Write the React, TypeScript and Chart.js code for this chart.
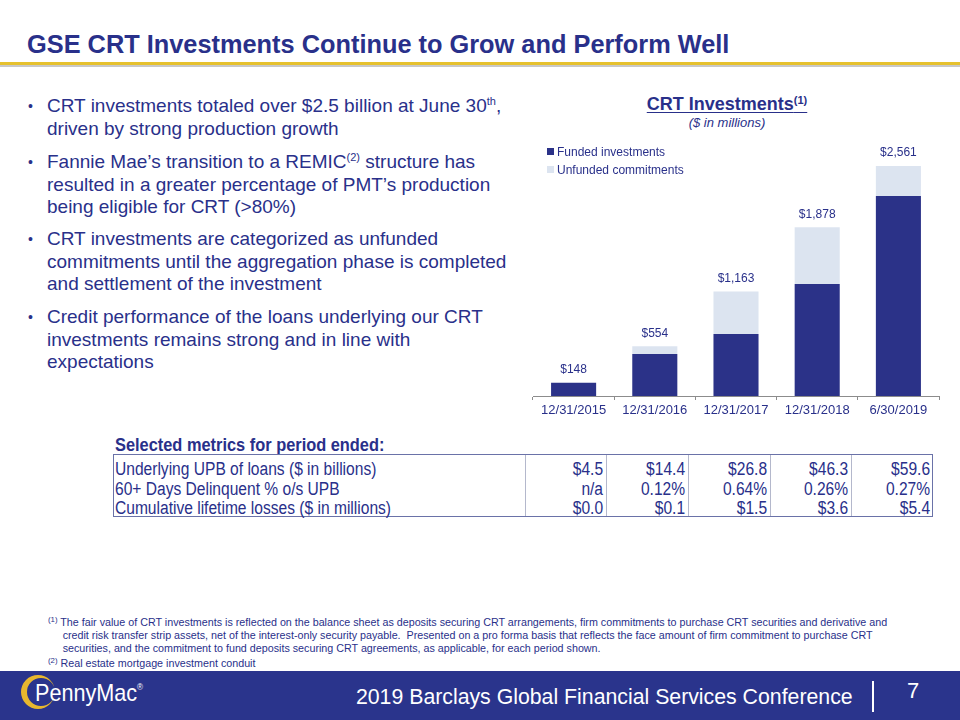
import React, { useEffect, useRef } from 'react';
import { Chart, registerables } from 'chart.js';

Chart.register(...registerables);

// ---------- data ----------
const categories = ['12/31/2015', '12/31/2016', '12/31/2017', '12/31/2018', '6/30/2019'];
const seriesNames = ['Funded investments', 'Unfunded commitments'];
const funded = [148, 468, 690, 1247, 2227];
const unfunded = [0, 86, 473, 631, 334];

const metricLabels = [
  'Underlying UPB of loans ($ in billions)',
  '60+ Days Delinquent % o/s UPB',
  'Cumulative lifetime losses ($ in millions)',
];
const upbBillions = [4.5, 14.4, 26.8, 46.3, 59.6];
const delinquentPct: (number | null)[] = [null, 0.12, 0.64, 0.26, 0.27];
const lossesMillions = [0.0, 0.1, 1.5, 3.6, 5.4];

// ---------- styles ----------
const FONT = 'Arial, "Liberation Sans", sans-serif';
const NAVY = '#29308A';
const BAR_DARK = '#2B3288';
const BAR_LIGHT = '#DCE4F0';
const BAND = '#2A348C';
const GOLD = '#E6C12E';

const tableRows: string[][] = [
  upbBillions.map((v) => '$' + v.toFixed(1)),
  delinquentPct.map((v) => (v === null ? 'n/a' : v.toFixed(2) + '%')),
  lossesMillions.map((v) => '$' + v.toFixed(1)),
];

const totalsPlugin = {
  id: 'totals',
  afterDatasetsDraw(chart: any) {
    const { ctx, scales } = chart;
    const meta = chart.getDatasetMeta(0);
    ctx.save();
    ctx.font = `12px ${FONT}`;
    ctx.fillStyle = NAVY;
    ctx.textAlign = 'center';
    ctx.textBaseline = 'middle';
    categories.forEach((_, i) => {
      const total = funded[i] + unfunded[i];
      const x = meta.data[i].x;
      const y = scales.y.getPixelForValue(total);
      ctx.fillText('$' + total.toLocaleString('en-US'), x, y - 13);
    });
    ctx.restore();
  },
};

const Narrow = ({ s, origin, children }: { s: number; origin: string; children: any }) => (
  <span
    style={{
      display: 'inline-block',
      transform: `scaleX(${s})`,
      transformOrigin: origin,
      whiteSpace: 'nowrap',
    }}
  >
    {children}
  </span>
);

const Sup = ({ children, size = 11, top = -7 }: { children: any; size?: number; top?: number }) => (
  <span style={{ fontSize: size, position: 'relative', top, lineHeight: 0 }}>{children}</span>
);

function CrtChart() {
  const ref = useRef<HTMLCanvasElement>(null);
  useEffect(() => {
    if (!ref.current) return;
    const chart = new Chart(ref.current, {
      type: 'bar',
      data: {
        labels: categories,
        datasets: [
          {
            label: seriesNames[0],
            data: funded,
            backgroundColor: BAR_DARK,
            barPercentage: 0.555,
            categoryPercentage: 1,
          },
          {
            label: seriesNames[1],
            data: unfunded,
            backgroundColor: BAR_LIGHT,
            barPercentage: 0.555,
            categoryPercentage: 1,
          },
        ],
      },
      options: {
        responsive: false,
        animation: false,
        layout: { padding: { left: 13, right: 11, top: 0, bottom: 0 } },
        plugins: { legend: { display: false }, tooltip: { enabled: false } },
        scales: {
          x: {
            stacked: true,
            grid: {
              drawOnChartArea: false,
              drawTicks: true,
              tickLength: 4,
              color: '#8C8C8C',
              offset: true,
            },
            border: { display: true, color: '#8C8C8C', width: 1 },
            ticks: { color: NAVY, font: { family: FONT, size: 13 }, padding: 3, maxRotation: 0 },
            afterFit(scale: any) {
              scale.height = 34;
            },
          },
          y: { stacked: true, display: false, min: 0, max: 2850 },
        },
      },
      plugins: [totalsPlugin],
    } as any);
    return () => chart.destroy();
  }, []);
  return (
    <canvas
      ref={ref}
      width={430}
      height={290}
      style={{ position: 'absolute', left: 520, top: 140, width: 430, height: 290 }}
    />
  );
}

const bullets: any[][] = [
  [
    <>CRT investments totaled over $2.5 billion at June 30<Sup>th</Sup>,</>,
    'driven by strong production growth',
  ],
  [
    <>Fannie Mae’s transition to a REMIC<Sup>(2)</Sup> structure has</>,
    'resulted in a greater percentage of PMT’s production',
    'being eligible for CRT (>80%)',
  ],
  [
    'CRT investments are categorized as unfunded',
    'commitments until the aggregation phase is completed',
    'and settlement of the investment',
  ],
  [
    'Credit performance of the loans underlying our CRT',
    'investments remains strong and in line with',
    'expectations',
  ],
];
const bulletTops = [95, 151, 228, 306];

const colEdges = [525, 606, 688, 770, 851, 933];
const rowTops = [4, 24, 43];

export default function App() {
  return (
    <div
      style={{
        position: 'absolute',
        left: 0,
        top: 0,
        width: 960,
        height: 720,
        background: '#fff',
        fontFamily: FONT,
        color: NAVY,
        overflow: 'hidden',
      }}
    >
      {/* slide title */}
      <div
        style={{
          position: 'absolute',
          left: 27,
          top: 29,
          fontSize: 26,
          lineHeight: '30px',
          fontWeight: 'bold',
          whiteSpace: 'nowrap',
          transform: 'scaleX(0.975)',
          transformOrigin: 'left',
        }}
      >
        GSE CRT Investments Continue to Grow and Perform Well
      </div>
      <div style={{ position: 'absolute', left: 0, top: 62, width: 960, height: 3, background: GOLD }} />
      <div style={{ position: 'absolute', left: 0, top: 65, width: 960, height: 2, background: '#C8C8C8' }} />

      {/* bullets */}
      {bullets.map((lines, i) => (
        <div
          key={i}
          style={{ position: 'absolute', left: 28, top: bulletTops[i], fontSize: 19, lineHeight: '22.5px' }}
        >
          <span style={{ position: 'absolute', left: 0, top: 0, fontSize: 14 }}>•</span>
          <div style={{ marginLeft: 19, whiteSpace: 'nowrap' }}>
            {lines.map((l, j) => (
              <div key={j}>{l}</div>
            ))}
          </div>
        </div>
      ))}

      {/* chart title */}
      <div
        style={{
          position: 'absolute',
          left: 520,
          width: 414,
          top: 93,
          textAlign: 'center',
          fontSize: 18,
          lineHeight: '22px',
          fontWeight: 'bold',
        }}
      >
        <span style={{ textDecoration: 'underline', textUnderlineOffset: 2 }}>
          CRT Investments<Sup size={11} top={-6}>(1)</Sup>
        </span>
      </div>
      <div
        style={{
          position: 'absolute',
          left: 520,
          width: 414,
          top: 115,
          textAlign: 'center',
          fontSize: 13,
          lineHeight: '16px',
          fontStyle: 'italic',
        }}
      >
        ($ in millions)
      </div>

      <CrtChart />

      {/* legend */}
      {seriesNames.map((n, i) => (
        <div
          key={n}
          style={{ position: 'absolute', left: 547, top: 144 + i * 18, fontSize: 12, lineHeight: '16px', whiteSpace: 'nowrap' }}
        >
          <span
            style={{
              display: 'inline-block',
              width: 7,
              height: 7,
              background: i === 0 ? BAR_DARK : BAR_LIGHT,
              marginRight: 3,
              verticalAlign: 1,
            }}
          />
          {n}
        </div>
      ))}

      {/* table */}
      <div
        style={{
          position: 'absolute',
          left: 115,
          top: 435,
          fontSize: 18,
          lineHeight: '20px',
          fontWeight: 'bold',
        }}
      >
        <Narrow s={0.91} origin="left">Selected metrics for period ended:</Narrow>
      </div>
      <div
        style={{
          position: 'absolute',
          left: 113,
          top: 454,
          width: 820,
          height: 63,
          boxSizing: 'border-box',
          border: '1px solid #6A72A8',
          fontSize: 18,
        }}
      >
        {colEdges.slice(0, 5).map((x, i) => (
          <div
            key={i}
            style={{ position: 'absolute', left: x - 114, top: 0, width: 1, height: 61, background: '#B4B8CC' }}
          />
        ))}
        {metricLabels.map((lab, r) => (
          <div
            key={lab}
            style={{ position: 'absolute', left: 1, top: rowTops[r], lineHeight: '20px' }}
          >
            <Narrow s={0.865} origin="left">{lab}</Narrow>
          </div>
        ))}
        {tableRows.map((row, r) =>
          row.map((v, c) => (
            <div
              key={r + '-' + c}
              style={{
                position: 'absolute',
                left: colEdges[c] - 114,
                width: colEdges[c + 1] - colEdges[c] - 3,
                top: rowTops[r],
                lineHeight: '20px',
                textAlign: 'right',
              }}
            >
              <Narrow s={0.865} origin="right">{v}</Narrow>
            </div>
          ))
        )}
      </div>

      {/* footnotes */}
      <div
        style={{
          position: 'absolute',
          left: 48,
          top: 616,
          fontSize: 11,
          lineHeight: '13px',
          whiteSpace: 'nowrap',
          transform: 'scaleX(0.975)',
          transformOrigin: 'left',
        }}
      >
        <div>
          <Sup size={8} top={-4}>(1)</Sup> The fair value of CRT investments is reflected on the balance sheet as deposits securing CRT arrangements, firm commitments to purchase CRT securities and derivative and
        </div>
        <div style={{ marginLeft: 15 }}>
          credit risk transfer strip assets, net of the interest-only security payable.&nbsp; Presented on a pro forma basis that reflects the face amount of firm commitment to purchase CRT
        </div>
        <div style={{ marginLeft: 15 }}>
          securities, and the commitment to fund deposits securing CRT agreements, as applicable, for each period shown.
        </div>
        <div style={{ marginTop: 2 }}>
          <Sup size={8} top={-4}>(2)</Sup> Real estate mortgage investment conduit
        </div>
      </div>

      {/* footer band */}
      <div style={{ position: 'absolute', left: 0, top: 671, width: 960, height: 49, background: BAND }} />
      <svg
        width={60}
        height={49}
        style={{ position: 'absolute', left: 14, top: 671 }}
        viewBox="0 0 60 49"
      >
        <path
          fillRule="evenodd"
          fill="#E8B72E"
          d="M 24 4 A 17 17 0 1 0 24 38 A 17 17 0 1 0 24 4 Z M 27 7 A 14 14 0 1 0 27 35 A 14 14 0 1 0 27 7 Z"
        />
      </svg>
      <div
        style={{
          position: 'absolute',
          left: 35,
          top: 679,
          fontSize: 24,
          lineHeight: '28px',
          color: '#fff',
          whiteSpace: 'nowrap',
          transform: 'scaleX(0.9)',
          transformOrigin: 'left',
        }}
      >
        PennyMac<span style={{ fontSize: 9, position: 'relative', top: -11 }}>®</span>
      </div>
      <div
        style={{
          position: 'absolute',
          right: 107,
          top: 684,
          fontSize: 22,
          lineHeight: '26px',
          color: '#fff',
          whiteSpace: 'nowrap',
          transform: 'scaleX(0.967)',
          transformOrigin: 'right',
        }}
      >
        2019 Barclays Global Financial Services Conference
      </div>
      <div style={{ position: 'absolute', left: 872, top: 681, width: 2, height: 31, background: '#fff' }} />
      <div
        style={{ position: 'absolute', left: 907, top: 678, fontSize: 22, lineHeight: '26px', color: '#fff' }}
      >
        7
      </div>
    </div>
  );
}
